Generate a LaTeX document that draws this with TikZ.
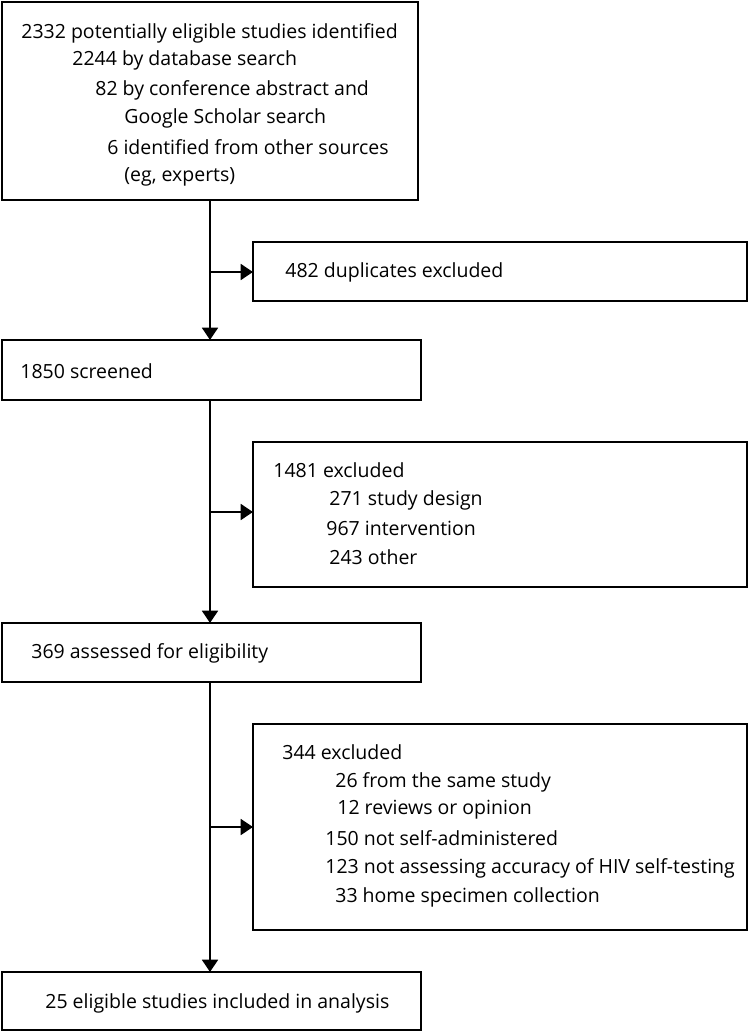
\documentclass[tikz,border=0pt]{standalone}
\usepackage{fontspec}
\setmainfont{Open Sans}
\usetikzlibrary{arrows.meta}
\begin{document}
\begin{tikzpicture}[x=0.02cm,y=-0.02cm,
  box/.style={draw,line width=1.2pt},
  t/.style={anchor=west,inner sep=0,font=\fontsize{11.1}{13}\selectfont},
  arr/.style={line width=1.3pt,-{Triangle[length=7pt,width=9pt]}}]
\useasboundingbox (0,0) rectangle (750,1033);
\draw[box] (2,2) rectangle (418,200);
\draw[box] (253,242) rectangle (747,301);
\draw[box] (2,340) rectangle (421,400);
\draw[box] (253,442) rectangle (747,587);
\draw[box] (2,623) rectangle (421,682);
\draw[box] (253,724) rectangle (747,930);
\draw[box] (2,972) rectangle (421,1030);
\node[t] (a1) at (21,33) {2332 potentially eligible studies identified};
\node[t] (a2) at (72,60) {2244 by database search};
\node[t] (a3) at (95,90) {82 by conference abstract and};
\node[t] (a4) at (124,118) {Google Scholar search};
\node[t] (a5) at (107,147) {6 identified from other sources};
\node[t] (a6) at (124,177) {(eg, experts)};
\node[t] (b) at (285,272) {482 duplicates excluded};
\node[t] (c) at (20,371) {1850 screened};
\node[t] (d1) at (273,470) {1481 excluded};
\node[t] (d2) at (329,500) {271 study design};
\node[t] (d3) at (326,528) {967 intervention};
\node[t] (d4) at (329,557) {243 other};
\node[t] (e) at (31,653) {369 assessed for eligibility};
\node[t] (f1) at (282,752) {344 excluded};
\node[t] (f2) at (335,782) {26 from the same study};
\node[t] (f3) at (337,810) {12 reviews or opinion};
\node[t] (f4) at (325,838) {150 not self-administered};
\node[t] (f5) at (325,868) {123 not assessing accuracy of HIV self-testing};
\node[t] (f6) at (335,897) {33 home specimen collection};
\node[t] (g) at (45,1003) {25 eligible studies included in analysis};
\coordinate (s1) at (210,200); \coordinate (e1) at (210,340);
\coordinate (s2) at (210,400); \coordinate (e2) at (210,623);
\coordinate (s3) at (210,682); \coordinate (e3) at (210,972);
\coordinate (j1) at (210,272); \coordinate (k1) at (253,272);
\coordinate (j2) at (210,512); \coordinate (k2) at (253,512);
\coordinate (j3) at (210,827); \coordinate (k3) at (253,827);
\draw[arr] (s1) -- (e1);
\draw[arr] (s2) -- (e2);
\draw[arr] (s3) -- (e3);
\draw[arr] (j1) -- (k1);
\draw[arr] (j2) -- (k2);
\draw[arr] (j3) -- (k3);
\end{tikzpicture}
\end{document}
